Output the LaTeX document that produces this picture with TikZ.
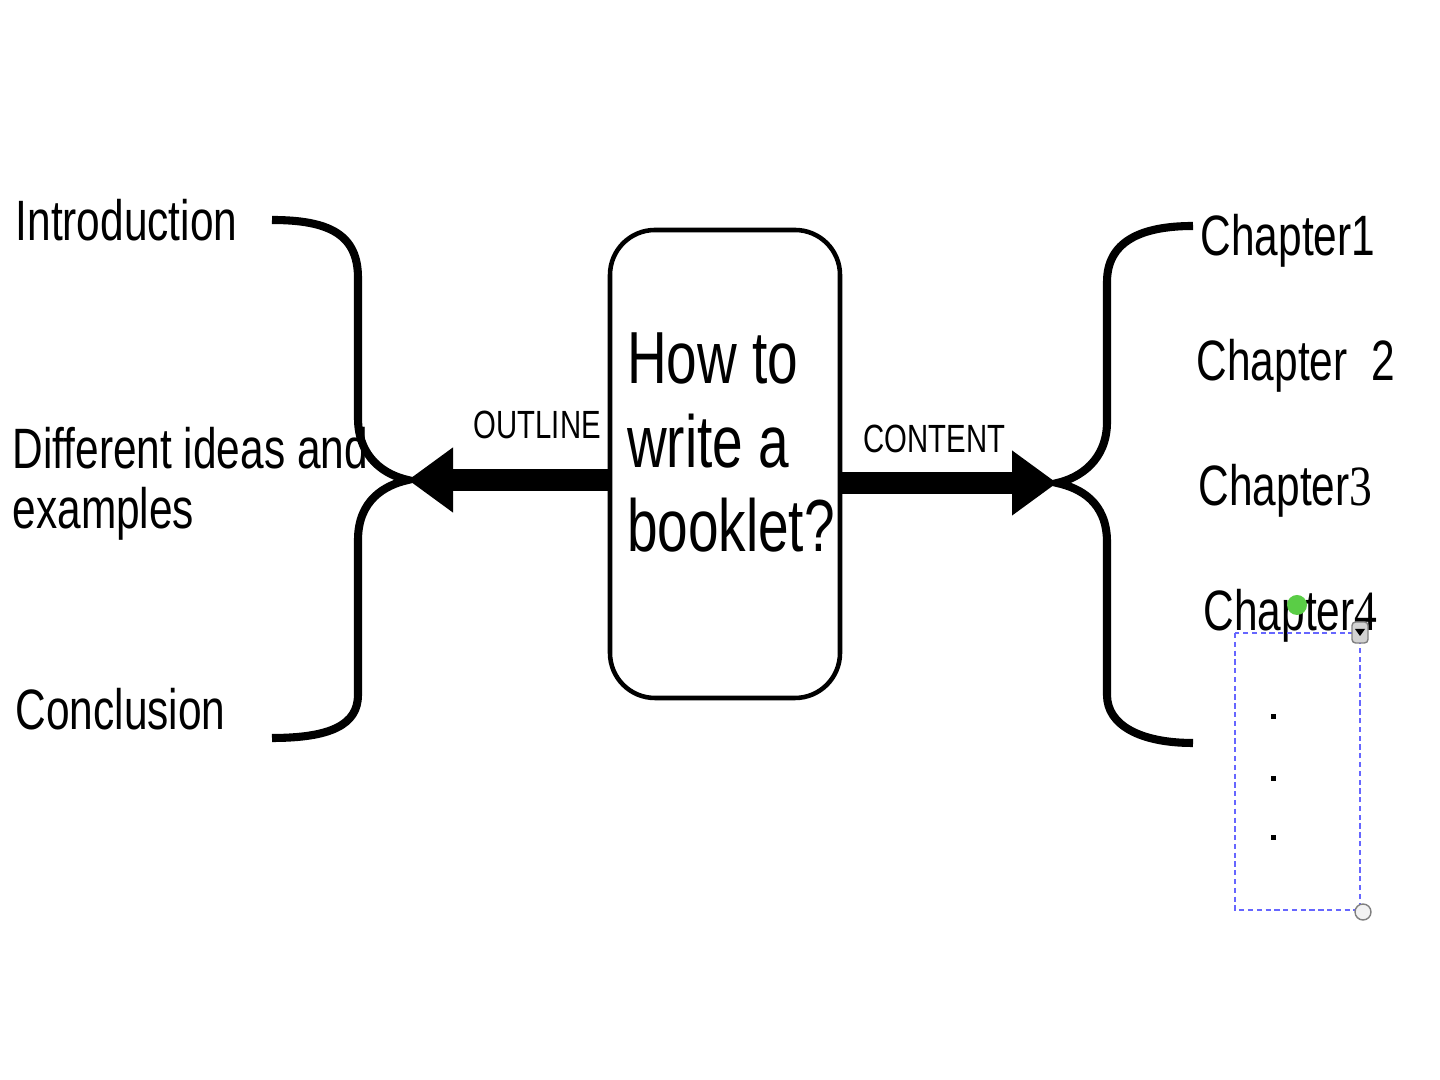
\documentclass[tikz,border=0pt]{standalone}
\usepackage{fontspec}
\setmainfont{Liberation Sans}[FakeStretch=0.745]
\newfontfamily\digfont{Liberation Serif}[FakeStretch=0.8]
\usetikzlibrary{arrows.meta}
\tikzset{>/.tip={Triangle[length=0.45cm,width=0.62cm]}}
\definecolor{grip}{RGB}{90,205,70}

\begin{document}
\begin{tikzpicture}[brace/.style={line width=2.3pt},fat/.style={->,line width=6.3pt},
  big/.style={font=\fontsize{16.2}{17.5}\selectfont}]
\useasboundingbox (0,0) rectangle (14.4,10.8);
\node[draw,line width=1.3pt,rounded corners=0.45cm,minimum width=2.3cm,minimum height=4.68cm,
  inner xsep=0.17cm,text width=1.96cm,align=flush left,font=\fontsize{21}{23.9}\selectfont]
  (q) at (7.25,6.16) {How to\\write a\\booklet?\\[-0.4cm]\mbox{}};

\node[big,anchor=base west,inner sep=0pt] (intro) at (0.15,8.39) {Introduction};
\node[big,anchor=west,align=left,inner sep=0pt,font=\fontsize{16.2}{17}\selectfont] (ideas) at (0.12,5.96) {Different ideas and\\examples};
\node[big,anchor=base west,inner sep=0pt] (concl) at (0.15,3.50) {Conclusion};

\node[anchor=base west,inner sep=0pt,font=\fontsize{11.2}{13}\selectfont] (outl) at (4.73,6.41) {OUTLINE};
\node[anchor=base west,inner sep=0pt,font=\fontsize{11.2}{13}\selectfont] (cont) at (8.63,6.27) {CONTENT};

\node[big,anchor=base west,inner sep=0pt] (ch1) at (12.00,8.24) {Chapter1};
\node[big,anchor=base west,inner sep=0pt] (ch2) at (11.96,6.99) {Chapter\ \ 2};
\node[big,anchor=base west,inner sep=0pt] (ch3) at (11.98,5.74) {Chapter{\digfont 3}};
\node[big,anchor=base west,inner sep=0pt] (ch4) at (12.03,4.49) {Chapter{\digfont 4}};

\coordinate (lt) at (4.08,6.00);
\coordinate (rt) at (10.57,5.97);

\draw[brace] (2.72,8.60) .. controls (3.30,8.60) and (3.58,8.45) .. (3.58,8.02) -- (3.58,6.62)
  .. controls (3.58,6.22) and (3.85,6.05) .. (lt)
  .. controls (3.85,5.95) and (3.58,5.80) .. (3.58,5.40) -- (3.58,3.85)
  .. controls (3.58,3.55) and (3.30,3.42) .. (2.72,3.42);
\draw[brace] (11.93,8.54) .. controls (11.40,8.54) and (11.07,8.38) .. (11.07,7.98) -- (11.07,6.58)
  .. controls (11.07,6.20) and (10.80,6.02) .. (rt)
  .. controls (10.80,5.92) and (11.07,5.78) .. (11.07,5.38) -- (11.07,3.85)
  .. controls (11.07,3.55) and (11.40,3.37) .. (11.93,3.37);

\draw[fat] (q.west |- lt) -- (lt);
\draw[fat] (q.east |- rt) -- (rt);

\draw[blue!60,line width=0.6pt,dash pattern=on 1.5pt off 1pt] (12.35,4.47) rectangle (13.60,1.70);
\foreach \y in {3.63,3.01,2.42}
  \fill (12.705,\y-0.025) rectangle +(0.05,0.05);
\fill[grip] (12.97,4.75) circle (0.1);
\draw[gray,fill=gray!35,rounded corners=1pt] (13.52,4.37) rectangle (13.68,4.58);
\fill (13.55,4.51) -- (13.65,4.51) -- (13.60,4.44) -- cycle;
\draw[gray,fill=gray!10] (13.63,1.68) circle (0.08);
\end{tikzpicture}
\end{document}
